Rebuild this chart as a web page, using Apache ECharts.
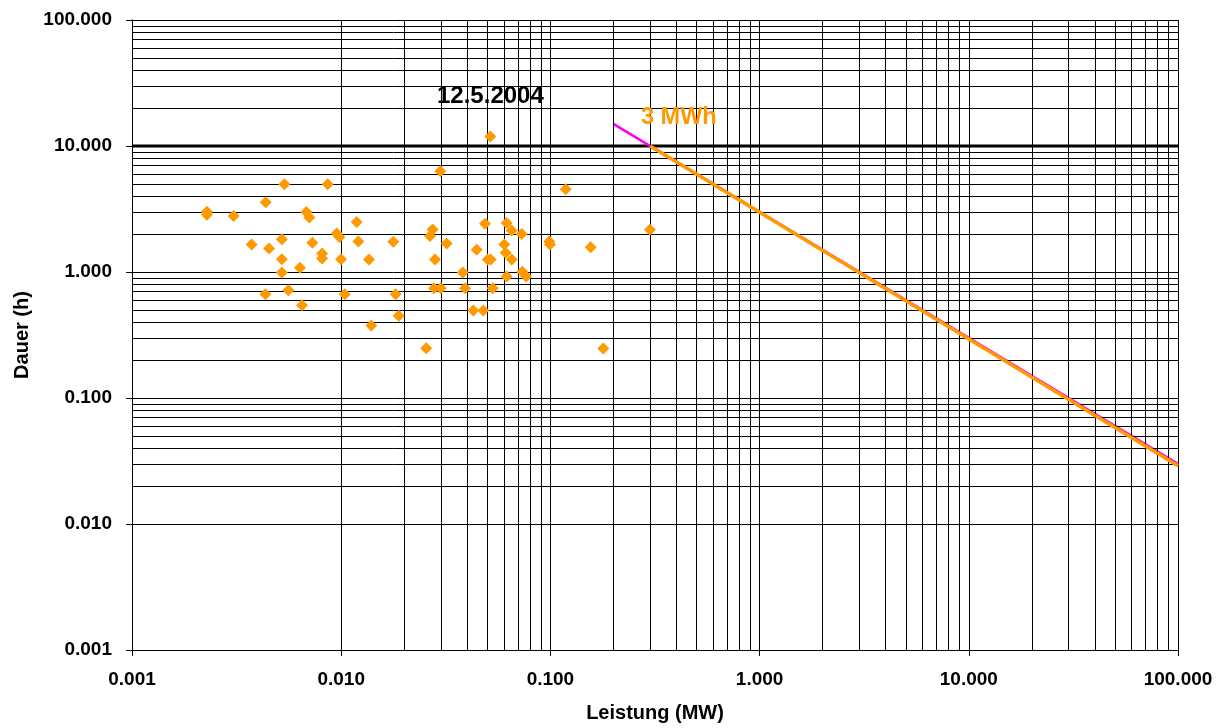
<!DOCTYPE html>
<html>
<head>
<meta charset="utf-8">
<title>Leistung / Dauer</title>
<script src="https://cdn.jsdelivr.net/npm/echarts@6/dist/echarts.min.js"></script>
<style>
  html, body { margin: 0; padding: 0; background: #ffffff; }
  #chart { width: 1224px; height: 728px; }
</style>
</head>
<body>
<div id="chart"></div>
<script>
// Messpunkte (Leistung in MW, Dauer in h)
const leistung = [
  0.00228, 0.00228, 0.00306, 0.00436, 0.00373, 0.00452, 0.00434, 0.0052, 0.0052, 0.0052,
  0.00535, 0.00559, 0.00635, 0.0065, 0.00681, 0.00704, 0.00728, 0.0081, 0.0081, 0.00862,
  0.00952, 0.0098, 0.00998, 0.0104, 0.01186, 0.01207, 0.01358, 0.01393, 0.01775, 0.0182,
  0.01883, 0.0255, 0.02658, 0.02738, 0.02777, 0.02808, 0.02977, 0.0299, 0.03194, 0.0381,
  0.0391, 0.0428, 0.04444, 0.04778, 0.04869, 0.05014, 0.0516, 0.05183, 0.053, 0.0602,
  0.0611, 0.0618, 0.0618, 0.0653, 0.0653, 0.0729, 0.0734, 0.0765, 0.0988, 0.0995,
  0.1183, 0.1558, 0.179, 0.299
]
const dauer = [
  3.01, 2.85, 2.78, 3.58, 1.65, 1.535, 0.666, 1.82, 1.265, 0.993,
  4.97, 0.716, 1.08, 0.545, 2.99, 2.71, 1.71, 1.40, 1.28, 4.97,
  2.02, 1.90, 1.265, 0.666, 2.49, 1.75, 1.257, 0.377, 1.74, 0.666,
  0.449, 0.248, 1.93, 2.17, 0.743, 1.257, 6.29, 0.743, 1.68, 0.993,
  0.743, 0.495, 1.50, 0.495, 2.42, 1.257, 11.9, 1.257, 0.743, 1.65,
  1.42, 2.45, 0.923, 2.13, 1.257, 2.00, 1.005, 0.923, 1.75, 1.65,
  4.54, 1.57, 0.247, 2.16
]

// 3 MWh Linien
const mwhMagentaX = [0.2, 100]
const mwhMagentaY = [15, 0.03]
const mwhOrangeX = [0.3, 100]
const mwhOrangeY = [10, 0.029]

// Grenze 10 h
const grenzeX = [0.001, 100]
const grenzeY = [10, 10]

// Zwischenlinien 2..9 je Dekade
const dekaden = [0.001, 0.01, 0.1, 1, 10]
const zwischen = [2, 3, 4, 5, 6, 7, 8, 9]

const fontFam = '"Liberation Sans", Arial, sans-serif'

function zip(xs, ys) {
  return xs.map((x, i) => [x, ys[i]])
}

const minorValues = []
for (const d of dekaden) {
  for (const m of zwischen) {
    minorValues.push(m * d)
  }
}

const gridLineStyle = { color: '#000', width: 1, type: 'solid' }

const chart = echarts.init(document.getElementById('chart'), null, { renderer: 'canvas' })
chart.setOption({
  backgroundColor: '#ffffff',
  animation: false,
  grid: {
    left: 132,
    right: 46,
    top: 20,
    bottom: 74,
    containLabel: false
  },
  xAxis: {
    type: 'log',
    logBase: 10,
    min: 0.001,
    max: 100,
    name: 'Leistung (MW)',
    nameLocation: 'middle',
    nameGap: 53,
    nameTextStyle: {
      fontFamily: fontFam,
      fontSize: 20,
      fontWeight: 'bold',
      color: '#000'
    },
    axisLine: { show: true, lineStyle: { color: '#000', width: 1 } },
    axisTick: { show: true, length: 6, inside: false, lineStyle: { color: '#000' } },
    axisLabel: {
      margin: 20,
      fontFamily: fontFam,
      fontSize: 19,
      fontWeight: 'bold',
      color: '#000',
      formatter: function(v) {
        return Number(v).toFixed(3)
      }
    },
    splitLine: { show: true, lineStyle: gridLineStyle }
  },
  yAxis: {
    type: 'log',
    logBase: 10,
    min: 0.001,
    max: 100,
    name: 'Dauer (h)',
    nameLocation: 'middle',
    nameGap: 100,
    nameRotate: 90,
    nameTextStyle: {
      fontFamily: fontFam,
      fontSize: 20,
      fontWeight: 'bold',
      color: '#000'
    },
    axisLine: { show: true, lineStyle: { color: '#000', width: 1 } },
    axisTick: { show: true, length: 6, inside: false, lineStyle: { color: '#000' } },
    axisLabel: {
      margin: 20,
      fontFamily: fontFam,
      fontSize: 19,
      fontWeight: 'bold',
      color: '#000',
      formatter: function(v) {
        return Number(v).toFixed(3)
      }
    },
    splitLine: { show: true, lineStyle: gridLineStyle }
  },
  graphic: [
    {
      type: 'text',
      x: 437,
      y: 96,
      z: 100,
      style: {
        text: '12.5.2004',
        fontFamily: fontFam,
        fontSize: 24,
        fontWeight: 'bold',
        fill: '#000',
        align: 'left',
        verticalAlign: 'middle'
      }
    },
    {
      type: 'text',
      x: 641,
      y: 118,
      z: 100,
      style: {
        text: '3 MWh',
        fontFamily: fontFam,
        fontSize: 23.5,
        fontWeight: 'bold',
        fill: '#ff9900',
        align: 'left',
        verticalAlign: 'middle'
      }
    }
  ],
  series: [
    {
      // nur für die Zwischen-Gitterlinien
      name: 'gitter',
      type: 'line',
      data: [],
      silent: true,
      z: 1,
      markLine: {
        silent: true,
        symbol: ['none', 'none'],
        label: { show: false },
        lineStyle: gridLineStyle,
        emphasis: { disabled: true },
        data: minorValues.map(v => ({ xAxis: v })).concat(minorValues.map(v => ({ yAxis: v })))
      }
    },
    {
      name: 'Grenze',
      type: 'line',
      z: 3,
      showSymbol: false,
      lineStyle: { color: '#000', width: 3 },
      data: zip(grenzeX, grenzeY)
    },
    {
      name: '3 MWh magenta',
      type: 'line',
      z: 4,
      showSymbol: false,
      lineStyle: { color: '#ff00ff', width: 2.5 },
      data: zip(mwhMagentaX, mwhMagentaY)
    },
    {
      name: '3 MWh',
      type: 'line',
      z: 5,
      showSymbol: false,
      lineStyle: { color: '#ff9900', width: 3.5 },
      data: zip(mwhOrangeX, mwhOrangeY)
    },
    {
      name: 'Ereignisse',
      type: 'scatter',
      z: 6,
      symbol: 'diamond',
      symbolSize: 12,
      itemStyle: { color: '#ff9900', opacity: 1 },
      data: zip(leistung, dauer)
    }
  ]
})
</script>
</body>
</html>
